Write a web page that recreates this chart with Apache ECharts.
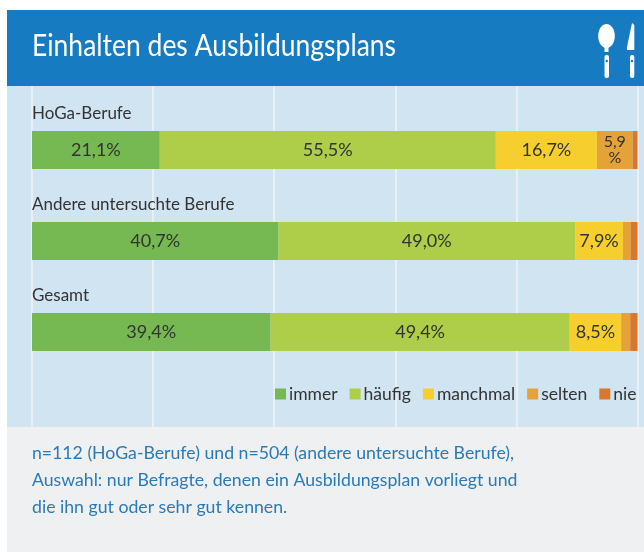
<!DOCTYPE html>
<html><head><meta charset="utf-8">
<style>html,body{margin:0;padding:0;background:#fff}#c{width:644px;height:552px}</style>
<script src="https://cdn.jsdelivr.net/npm/echarts@6/dist/echarts.min.js"></script>
</head><body><div id="c"></div>
<script>
const FONT = 'Lato,"Open Sans",sans-serif';
const categories = ['HoGa-Berufe','Andere untersuchte Berufe','Gesamt'];
const immer = [21.1,40.7,39.4];
const haeufig = [55.5,49.0,49.4];
const manchmal = [16.7,7.9,8.5];
const selten = [5.9,1.3,1.5];
const nie = [0.8,1.1,1.2];
const tickValues = [0,20,40,60,80,100];
const titleText = 'Einhalten des Ausbildungsplans';
const footnote = 'n=112 (HoGa-Berufe) und n=504 (andere untersuchte Berufe),\nAuswahl: nur Befragte, denen ein Ausbildungsplan vorliegt und\ndie ihn gut oder sehr gut kennen.';
const chart = echarts.init(document.getElementById('c'));
function fmt(p){
  if (p.value < 5) return '';
  const s = p.value.toFixed(1).replace('.',',');
  return p.value < 7 ? s + '\n%' : s + '%';
}
function ser(name,data,color){
  return {name,type:'bar',stack:'a',data,barWidth:38,xAxisIndex:0,yAxisIndex:0,
    itemStyle:{color},z:3,
    label:{show:true,position:'inside',formatter:fmt,color:'#333',fontFamily:FONT,fontSize:18}};
}
const s4 = ser('selten',selten,'#e5a238');
s4.data = selten.map((v,i)=> i===0 ? {value:v,label:{fontSize:16,lineHeight:16}} : v);
chart.setOption({
  animation:false,
  backgroundColor:'#fff',
  graphic:[
    {type:'rect',z:-10,shape:{x:7,y:10,width:637,height:76},style:{fill:'#177bc2'}},
    {type:'rect',z:-10,shape:{x:7,y:86,width:637,height:341},style:{fill:'#d1e4f2'}},
    {type:'rect',z:-10,shape:{x:7,y:427,width:637,height:125},style:{fill:'#eef0f2'}},
    {type:'text',z:5,x:32,y:46,scaleX:0.883,style:{text:titleText,fill:'#fff',font:'30px '+FONT,verticalAlign:'middle'}},
    {type:'group',z:5,children:[
      {type:'ellipse',shape:{cx:606.5,cy:36,rx:8.3,ry:12},style:{fill:'#fff'}},
      {type:'rect',shape:{x:604.5,y:46,width:4,height:6},style:{fill:'#fff'}},
      {type:'rect',shape:{x:604.5,y:55,width:4.5,height:23,r:2},style:{fill:'#fff'}},
      {type:'circle',shape:{cx:606.8,cy:61,r:1.2},style:{fill:'#177bc2'}},
      {type:'polygon',shape:{points:[[632,23],[634.3,25],[634.3,50],[627,50],[627,47]]},style:{fill:'#fff'}},
      {type:'rect',shape:{x:630,y:55,width:4.3,height:23,r:2},style:{fill:'#fff'}},
      {type:'circle',shape:{cx:632,cy:61,r:1.2},style:{fill:'#177bc2'}}
    ]},
    {type:'text',x:32,y:440,scaleX:0.982,style:{text:footnote,fill:'#2a7ab8',font:'18px '+FONT,lineHeight:27}}
  ],
  grid:[
    {left:32,width:605.5,top:104.5,height:273},
    {left:32,width:605.5,top:86,height:341}
  ],
  xAxis:[
    {gridIndex:0,type:'value',min:0,max:100,interval:20,show:false},
    {gridIndex:1,type:'value',min:tickValues[0],max:tickValues[5],interval:20,
     axisLine:{show:false},axisTick:{show:false},axisLabel:{show:false},
     splitLine:{show:true,lineStyle:{color:'#e9eff4',width:2}}}
  ],
  yAxis:[
    {gridIndex:0,type:'category',inverse:true,data:categories,axisLine:{show:false},axisTick:{show:false},
     splitLine:{show:false},
     axisLabel:{show:true,inside:true,margin:0,align:'left',verticalAlign:'bottom',padding:[0,0,28,0],
       color:'#333',fontFamily:FONT,fontSize:17},z:4},
    {gridIndex:1,type:'category',data:[],show:false}
  ],
  legend:{left:270,top:380,width:374,padding:5,itemWidth:11,itemHeight:11,itemGap:12,icon:'rect',
    data:['immer','häufig','manchmal','selten','nie'],
    textStyle:{color:'#333',fontFamily:FONT,fontSize:17.5,padding:[0,0,0,-2]}},
  series:[
    ser('immer',immer,'#76b852'),
    ser('häufig',haeufig,'#aecd48'),
    ser('manchmal',manchmal,'#f6cf2f'),
    s4,
    ser('nie',nie,'#d9772f')
  ]
});
</script></body></html>
